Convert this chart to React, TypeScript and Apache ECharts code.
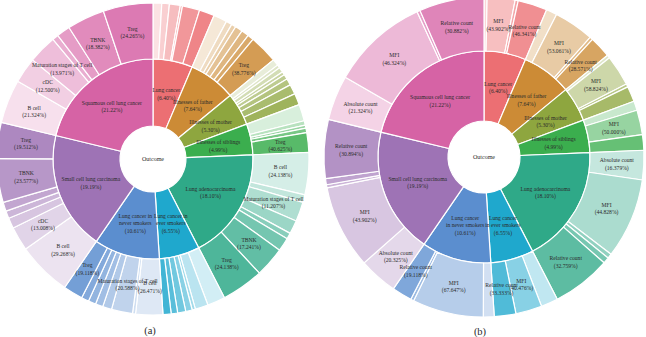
import React, { useEffect, useRef } from "react";
import * as echarts from "echarts";

// Inner ring: outcomes and their overall shares (%)
const outcomes = [
  "Lung cancer",
  "Illnesses of father",
  "Illnesses of mother",
  "Illnesses of siblings",
  "Lung adenocarcinoma",
  "Lung cancer in ever smokers",
  "Lung cancer in never smokers",
  "Small cell lung carcinoma",
  "Squamous cell lung cancer",
];
const outcomeShares = [6.4, 7.64, 5.3, 4.99, 18.1, 6.55, 10.61, 19.19, 21.22];
const outcomeColors = [
  "#EC6F73",
  "#CC8B36",
  "#8EA63F",
  "#3BAE4E",
  "#2FA988",
  "#1FA8CD",
  "#5B8ECF",
  "#9E73B5",
  "#D663A5",
];

// Panel (a): immune cell groups per outcome (counts, 0 = absent)
const cellTypes = [
  "B cell",
  "cDC",
  "Maturation stages of T cell",
  "Monocyte",
  "NK cell",
  "pDC",
  "TBNK",
  "Treg",
];
const cellCounts = [
  [8, 7, 10, 2, 0, 0, 16, 14],
  [9, 4, 3, 5, 5, 0, 4, 19],
  [4, 2, 3, 2, 3, 4, 6, 7],
  [11, 3, 2, 0, 0, 0, 3, 13],
  [28, 5, 13, 9, 4, 9, 20, 28],
  [11, 8, 2, 4, 5, 0, 4, 5],
  [18, 2, 14, 6, 5, 5, 5, 13],
  [36, 16, 7, 5, 6, 0, 29, 24],
  [29, 17, 19, 4, 9, 0, 25, 33],
];

// Panel (b): measurement types per outcome (counts, 0 = absent)
const measureTypes = ["Absolute count", "MFI", "Median", "Percentage", "Relative count"];
const measureCounts = [
  [2, 18, 0, 2, 19],
  [7, 26, 0, 2, 14],
  [2, 20, 0, 2, 10],
  [6, 16, 0, 0, 10],
  [19, 52, 3, 4, 38],
  [11, 17, 0, 0, 14],
  [7, 46, 0, 2, 13],
  [25, 54, 2, 4, 38],
  [29, 63, 0, 2, 42],
];

const FONT = "Liberation Serif";

function tint(hex: string, t: number): string {
  const n = parseInt(hex.slice(1), 16);
  const r = (n >> 16) & 255;
  const g = (n >> 8) & 255;
  const b = n & 255;
  const m = (c: number) => Math.round(c + (255 - c) * t);
  return `rgb(${m(r)},${m(g)},${m(b)})`;
}

function wrapName(name: string, breakAfter: string): string {
  if (name.length <= 26) return name;
  const idx = name.indexOf(breakAfter);
  if (idx < 0) return name;
  const cut = idx + breakAfter.length;
  return name.slice(0, cut).trim() + "\n" + name.slice(cut).trim();
}

function buildTree(
  childNames: string[],
  counts: number[][],
  tStart: number,
  tEnd: number,
  breakAfter: string
) {
  return outcomes.map((name, i) => {
    const row = counts[i];
    const total = row.reduce((a, b) => a + b, 0);
    const present = row
      .map((c, j) => ({ c, j }))
      .filter((d) => d.c > 0);
    const n = present.length;
    const children = present.map((d, k) => {
      const t = n > 1 ? tStart + ((tEnd - tStart) * k) / (n - 1) : tStart;
      const pct = ((d.c / total) * 100).toFixed(3) + "%";
      return {
        name: childNames[d.j],
        value: (outcomeShares[i] * d.c) / total,
        label: { formatter: `${childNames[d.j]}\n(${pct})` },
        itemStyle: { color: tint(outcomeColors[i], t) },
      };
    });
    const pct = outcomeShares[i].toFixed(2) + "%";
    return {
      name,
      value: outcomeShares[i],
      label: { formatter: `${wrapName(name, breakAfter)}\n(${pct})` },
      itemStyle: { color: outcomeColors[i] },
      children,
    };
  });
}

const labelBase = {
  rotate: 0,
  fontFamily: FONT,
  fontSize: 5.6,
  lineHeight: 7.5,
  color: "#2b2b2b",
};

function sunburstSeries(data: any[], center: number[], radii: number[]) {
  return {
    type: "sunburst",
    center,
    radius: [radii[0], radii[2]],
    sort: null,
    nodeClick: false,
    startAngle: 90,
    clockwise: true,
    emphasis: { focus: "none" },
    itemStyle: { borderColor: "#ffffff", borderWidth: 1.2 },
    label: { ...labelBase },
    levels: [
      {},
      { r0: radii[0], r: radii[1], label: { ...labelBase } },
      { r0: radii[1], r: radii[2], label: { ...labelBase, minAngle: 7 } },
    ],
    data,
  };
}

export default function App() {
  const ref = useRef<HTMLDivElement>(null);

  useEffect(() => {
    if (!ref.current) return;
    const chart = echarts.init(ref.current, undefined, { renderer: "svg" });
    const centerA = [153, 159];
    const centerB = [484, 157];
    chart.setOption({
      animation: false,
      backgroundColor: "#ffffff",
      graphic: [
        {
          type: "text",
          x: centerA[0],
          y: centerA[1],
          style: { text: "Outcome", fontFamily: FONT, fontSize: 6, fill: "#2b2b2b", align: "center", verticalAlign: "middle" },
        },
        {
          type: "text",
          x: centerB[0],
          y: centerB[1],
          style: { text: "Outcome", fontFamily: FONT, fontSize: 6, fill: "#2b2b2b", align: "center", verticalAlign: "middle" },
        },
        {
          type: "text",
          x: 150,
          y: 330,
          style: { text: "(a)", fontFamily: FONT, fontSize: 10.5, fill: "#2b2b2b", align: "center", verticalAlign: "middle" },
        },
        {
          type: "text",
          x: 480,
          y: 331,
          style: { text: "(b)", fontFamily: FONT, fontSize: 10.5, fill: "#2b2b2b", align: "center", verticalAlign: "middle" },
        },
      ],
      series: [
        sunburstSeries(buildTree(cellTypes, cellCounts, 0.8, 0.15, " in "), centerA, [33, 100, 156]),
        sunburstSeries(buildTree(measureTypes, measureCounts, 0.72, 0.22, "cancer"), centerB, [36, 106, 160]),
      ],
    });
    return () => chart.dispose();
  }, []);

  return (
    <div
      ref={ref}
      style={{ position: "fixed", left: 0, top: 0, width: 646, height: 337, background: "#fff" }}
    />
  );
}
